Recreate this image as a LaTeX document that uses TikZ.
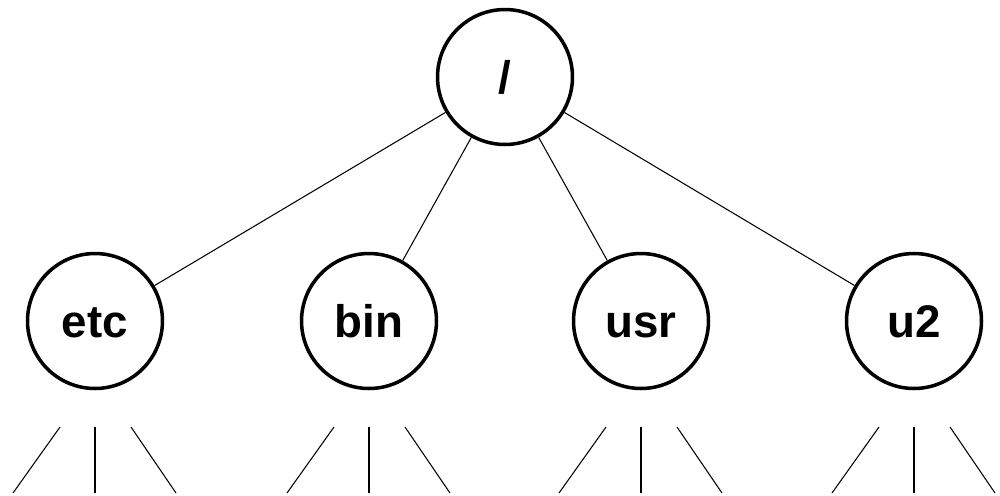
\documentclass[tikz,border=0pt]{standalone}
\usepackage{fontspec}
\setmainfont{Liberation Sans}
\begin{document}
\begin{tikzpicture}[x=0.02cm,y=-0.02cm]
             \tikzset{dir/.style={circle,draw,line width=2pt,minimum size=2.7cm,inner sep=0pt,
                                  text height=0.66cm,text depth=0pt,
                                  font=\fontsize{26}{30}\selectfont\bfseries},
                      link/.style={line width=0.6pt}}
             \useasboundingbox (0,0) rectangle (1000,495);

             \node[dir] (root) at (505,77) {/};
             \node[dir] (etc) at (95,321) {etc};
             \node[dir] (bin) at (369,321) {bin};
             \node[dir] (usr) at (641,321) {usr};
             \node[dir] (u2) at (914,321) {u2};

             \foreach \d in {etc,bin,usr,u2} {
               \draw[link] (root) -- (\d);
               % three subtrees hanging under each directory
               \draw[link] ([shift={(-35,106)}]\d.center) -- ++(-47,66);
               \draw[link,line width=0.8pt] ([shift={(0,106)}]\d.center) -- ++(0,66);
               \draw[link] ([shift={(36,106)}]\d.center) -- ++(45,66);
             }
\end{tikzpicture}
\end{document}
